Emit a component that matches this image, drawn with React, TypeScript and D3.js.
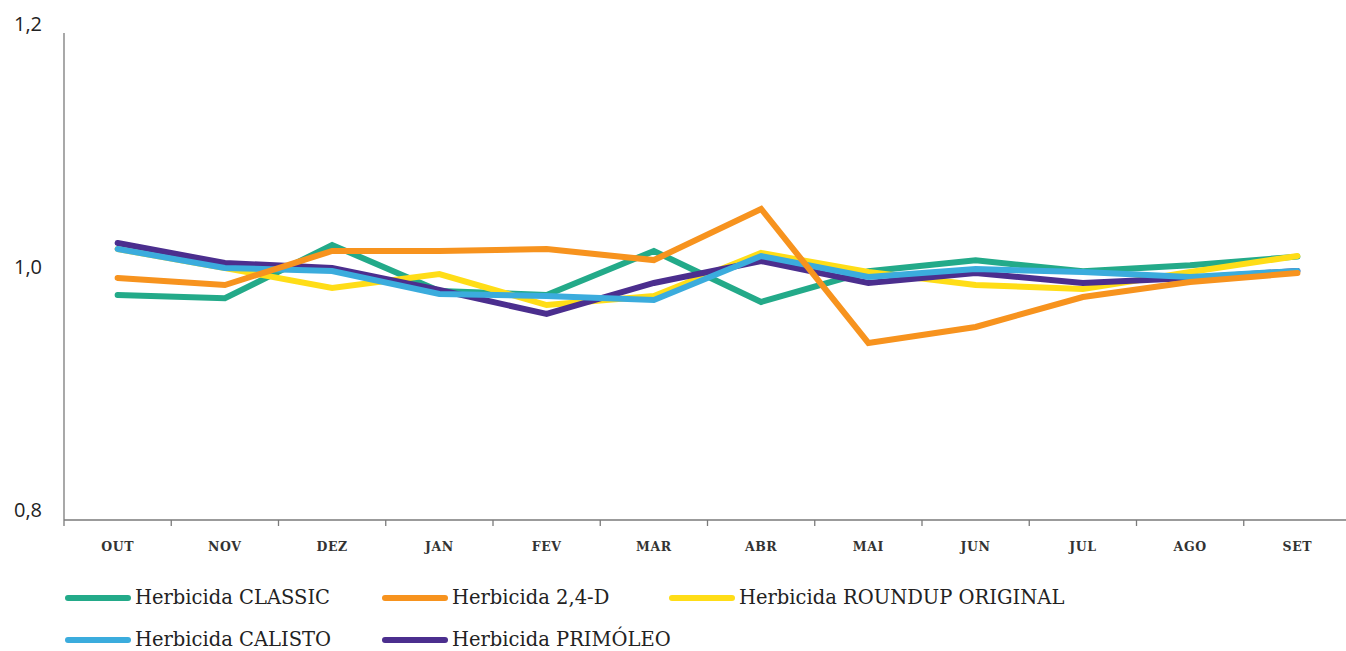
import React from "react";
import * as d3 from "d3";

const months = ["OUT", "NOV", "DEZ", "JAN", "FEV", "MAR", "ABR", "MAI", "JUN", "JUL", "AGO", "SET"];
const yTicks = [0.8, 1.0, 1.2];

const classic = [0.9837, 0.981, 1.0245, 0.987, 0.9837, 1.0196, 0.978, 1.003, 1.012, 1.003, 1.008, 1.015];
const d24 = [0.9976, 0.9918, 1.0196, 1.0196, 1.0212, 1.0122, 1.0539, 0.9445, 0.9576, 0.982, 0.9943, 1.0016];
const roundup = [1.0212, 1.0057, 0.9894, 1.0008, 0.9755, 0.9829, 1.018, 1.0024, 0.9918, 0.9886, 1.0024, 1.0155];
const calisto = [1.0212, 1.0057, 1.0033, 0.9845, 0.9829, 0.9796, 1.0155, 0.9984, 1.0049, 1.0024, 0.9984, 1.0033];
const primoleo = [1.0261, 1.0098, 1.0057, 0.9878, 0.9682, 0.9935, 1.0114, 0.9935, 1.0016, 0.9935, 0.9976, 1.0033];

const seriesNames = ["Herbicida CLASSIC", "Herbicida 2,4-D", "Herbicida ROUNDUP ORIGINAL", "Herbicida CALISTO", "Herbicida PRIMÓLEO"];
const seriesColors = ["#23AA89", "#F7931E", "#FFDD17", "#3BACDD", "#4B2E8E"];
const seriesValues = [classic, d24, roundup, calisto, primoleo];
const drawOrder = [0, 2, 4, 3, 1];

const W = 1346;
const H = 651;

export default function App() {
  const x = d3.scaleBand<string>().domain(months).range([64, 1351]);
  const y = d3.scaleLinear().domain([0.8, 1.2]).range([520, 30]);
  const line = d3
    .line<number>()
    .x((_, i) => (x(months[i]) as number) + x.bandwidth() / 2)
    .y((v) => y(v));

  const boundaries = months.map((m) => x(m) as number).concat([x.range()[1]]);

  const legendPos = [
    { sx: 68, ty: 598 },
    { sx: 385, ty: 598 },
    { sx: 672, ty: 598 },
    { sx: 68, ty: 640 },
    { sx: 385, ty: 640 },
  ];

  return (
    <svg
      width={W}
      height={H}
      style={{ position: "absolute", left: 0, top: 0, background: "#fff" }}
    >
      {/* y axis */}
      <line x1={64} x2={64} y1={y(1.2) + 3} y2={y(0.8)} stroke="#7a7a7a" strokeWidth={1.3} />
      {yTicks.map((t) => (
        <text
          key={t}
          x={28}
          y={y(t) - 4 - (1.2 - t) * 12}
          textAnchor="middle"
          dominantBaseline="middle"
          fontFamily="'Open Sans', sans-serif"
          fontSize={20}
          fill="#222"
        >
          {d3.format(".1f")(t).replace(".", ",")}
        </text>
      ))}
      {/* x axis */}
      <line x1={64} x2={W} y1={y(0.8)} y2={y(0.8)} stroke="#7a7a7a" strokeWidth={1.3} />
      {boundaries.map((b, i) => (
        <line key={i} x1={b} x2={b} y1={y(0.8)} y2={y(0.8) + 6} stroke="#7a7a7a" strokeWidth={1.3} />
      ))}
      {months.map((m) => (
        <text
          key={m}
          x={(x(m) as number) + x.bandwidth() / 2}
          y={551}
          textAnchor="middle"
          fontFamily="'DejaVu Serif', serif"
          fontWeight="bold"
          fontSize={12.5}
          letterSpacing={0.6}
          fill="#333"
        >
          {m}
        </text>
      ))}
      {/* lines */}
      {drawOrder.map((si) => (
        <path
          key={si}
          d={line(seriesValues[si]) || ""}
          fill="none"
          stroke={seriesColors[si]}
          strokeWidth={6}
          strokeLinecap="round"
          strokeLinejoin="miter"
        />
      ))}
      {/* legend */}
      {seriesNames.map((n, i) => (
        <g key={n}>
          <line
            x1={legendPos[i].sx}
            x2={legendPos[i].sx + 60}
            y1={legendPos[i].ty}
            y2={legendPos[i].ty}
            stroke={seriesColors[i]}
            strokeWidth={6}
            strokeLinecap="round"
          />
          <text
            x={legendPos[i].sx + 67}
            y={legendPos[i].ty}
            dominantBaseline="middle"
            fontFamily="'DejaVu Serif', serif"
            fontSize={19.5}
            fill="#222"
          >
            {n}
          </text>
        </g>
      ))}
    </svg>
  );
}
